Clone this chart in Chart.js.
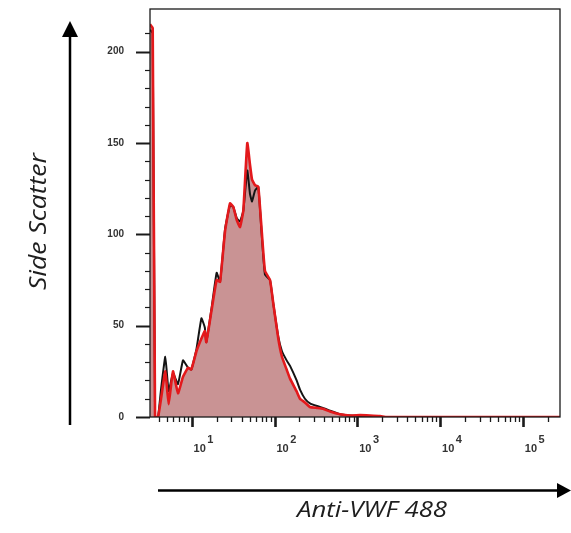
<!DOCTYPE html>
<html><head><meta charset="utf-8">
<script src="https://cdn.jsdelivr.net/npm/chart.js@4/dist/chart.umd.min.js"></script>
<style>html,body{margin:0;padding:0;background:#fff;} #wrap{width:571px;height:533px;position:relative;}</style>
</head><body><div id="wrap"><canvas id="c" width="571" height="533"></canvas></div>
<script>
// Fluorescence intensity (Anti-VWF 488) sample positions
const fluorescence = [3.14, 3.38, 3.61, 3.92, 4.26, 4.80, 5.27, 5.94, 6.83, 7.85, 9.03, 9.89, 11.4, 13.1, 14.4, 15.0, 17.3, 20.0, 22.0, 25.3, 29.0, 31.8, 34.9, 38.3, 42.0, 46.9, 50.6, 53.5, 58.1, 63.7, 70.0, 76.7, 88.2, 96.7, 111, 123, 140, 154, 185, 203, 233, 268, 326, 385, 468, 618, 816, 1078, 1423, 1880, 2284, 280000];
// Counts, red histogram (filled)
const countsRed = [215, 213, 0, 0, 10, 25, 7, 25, 13, 22, 27, 26, 36, 43, 47, 41, 58, 75, 74, 102, 117, 115, 108, 104, 113, 150, 138, 130, 127, 126, 102, 80, 75, 62, 43, 33, 26, 21, 14, 10, 8, 5.5, 5, 4.5, 3, 1.5, 0.8, 1, 0.8, 0.5, 0, 0];
// Counts, black histogram (outline)
const countsBlack = [212, 210, 0, 0, 15, 33, 14, 24, 18, 31, 27, 26, 37, 54, 49, 41, 59, 79, 74, 103, 116, 115, 109, 107, 113, 135, 122, 118, 124, 126, 100, 78, 75, 62, 44, 36, 31, 28, 20, 15, 10, 7.5, 6, 5, 3.5, 1.5, 0.8, 0.5, 0, 0, 0, 0];
// Tick labels
const xDecades = [10, 100, 1000, 10000, 100000];
const xDecadeExponents = ['1', '2', '3', '4', '5'];
const yLabelValues = [0, 50, 100, 150, 200];
const xTitle = 'Anti-VWF 488';
const yTitle = 'Side Scatter';

const tickFont = "'Liberation Sans', Arial, sans-serif";

function fitText(ctx, text, font, targetWidth) {
  ctx.font = font;
  const w = ctx.measureText(text).width;
  return targetWidth / w;
}

const decor = {
  id: 'decor',
  afterDraw(chart) {
    const {ctx, chartArea: a, scales: {x, y}} = chart;
    ctx.save();
    ctx.strokeStyle = '#1a1a1a';
    // frame
    ctx.lineWidth = 1.3;
    ctx.strokeRect(a.left, a.top, a.right - a.left, a.bottom - a.top);
    // y ticks
    y.ticks.forEach(t => {
      const v = t.value;
      if (Math.abs(v - Math.round(v / 10) * 10) > 1e-6) return;
      const major = yLabelValues.includes(Math.round(v));
      const py = Math.round(y.getPixelForValue(v)) + 0.5;
      ctx.lineWidth = major ? 2 : 1.2;
      ctx.beginPath();
      ctx.moveTo(a.left - (major ? 14 : 5), py);
      ctx.lineTo(a.left, py);
      ctx.stroke();
    });
    // x ticks
    x.ticks.forEach(t => {
      const v = t.value;
      const e = Math.floor(Math.log10(v) + 1e-9);
      const m = v / Math.pow(10, e);
      if (Math.abs(m - Math.round(m)) > 1e-6) return;
      const major = Math.round(m) === 1;
      const px = Math.round(x.getPixelForValue(v)) + 0.5;
      ctx.lineWidth = major ? 2.6 : 1.3;
      ctx.beginPath();
      ctx.moveTo(px, a.bottom);
      ctx.lineTo(px, a.bottom + (major ? 10 : 5));
      ctx.stroke();
    });
    // arrows
    ctx.strokeStyle = '#000';
    ctx.fillStyle = '#000';
    ctx.lineWidth = 2.5;
    ctx.beginPath(); ctx.moveTo(70, 425); ctx.lineTo(70, 36); ctx.stroke();
    ctx.beginPath(); ctx.moveTo(62, 37); ctx.lineTo(78, 37); ctx.lineTo(70, 21); ctx.closePath(); ctx.fill();
    ctx.beginPath(); ctx.moveTo(158, 490.5); ctx.lineTo(558, 490.5); ctx.stroke();
    ctx.beginPath(); ctx.moveTo(557, 483); ctx.lineTo(557, 498); ctx.lineTo(571, 490.5); ctx.closePath(); ctx.fill();
    // titles
    ctx.fillStyle = '#1e1e1e';
    ctx.textAlign = 'center';
    ctx.textBaseline = 'alphabetic';
    const xf = "italic 21px 'Open Sans', Lato, sans-serif";
    const sx = fitText(ctx, xTitle, xf, 150);
    ctx.save();
    ctx.translate(372, 516.5);
    ctx.scale(sx, 1);
    ctx.fillText(xTitle, 0, 0);
    ctx.restore();
    const yf = "italic 24px 'Open Sans', Lato, sans-serif";
    const sy = fitText(ctx, yTitle, yf, 137);
    ctx.save();
    ctx.translate(46, 221.5);
    ctx.rotate(-Math.PI / 2);
    ctx.scale(sy, 1);
    ctx.fillText(yTitle, 0, 0);
    ctx.restore();
    ctx.restore();
  }
};

new Chart(document.getElementById('c'), {
  type: 'line',
  data: {
    datasets: [
      {
        label: 'Anti-VWF 488 (red)',
        data: fluorescence.map((v, i) => ({x: v, y: countsRed[i]})),
        borderColor: '#e3191c',
        borderWidth: 2.6,
        backgroundColor: '#c99394',
        fill: 'origin',
        pointRadius: 0,
        tension: 0.12,
        order: 0
      },
      {
        label: 'Control (black)',
        data: fluorescence.map((v, i) => ({x: v, y: countsBlack[i]})),
        borderColor: '#141414',
        borderWidth: 2,
        fill: false,
        pointRadius: 0,
        tension: 0.12,
        order: 1
      }
    ]
  },
  options: {
    responsive: false,
    animation: false,
    devicePixelRatio: 1,
    layout: {padding: {left: 0, top: 9, right: 11, bottom: 0}},
    plugins: {
      legend: {display: false},
      tooltip: {enabled: false},
      filler: {drawTime: 'beforeDatasetsDraw'}
    },
    scales: {
      x: {
        type: 'logarithmic',
        min: 3.136,
        max: 280000,
        grid: {display: true, drawOnChartArea: false, drawTicks: true, tickLength: 10, tickColor: 'rgba(0,0,0,0)', color: 'rgba(0,0,0,0)'},
        border: {display: false},
        ticks: {
          autoSkip: false, maxRotation: 0, minRotation: 0, padding: 8, labelOffset: 8,
          font: {family: tickFont, size: 11, weight: 'bold', lineHeight: 0.82},
          color: '#333',
          callback: (v) => {
            const i = xDecades.findIndex(d => Math.abs(d - v) < 1e-6);
            return i >= 0 ? ['       ' + xDecadeExponents[i], '10'] : '';
          }
        },
        afterFit: s => { s.height = 116; s.paddingLeft = 0; s.paddingRight = 0; }
      },
      y: {
        min: 0,
        max: 223.4,
        grid: {display: true, drawOnChartArea: false, drawTicks: true, tickLength: 14, tickColor: 'rgba(0,0,0,0)', color: 'rgba(0,0,0,0)'},
        border: {display: false},
        ticks: {
          stepSize: 10, autoSkip: false, padding: 12,
          font: {family: tickFont, size: 10, weight: 'bold'},
          color: '#333',
          callback: (v) => yLabelValues.includes(v) ? String(v) : ''
        },
        afterFit: s => { s.width = 150; s.paddingTop = 0; s.paddingBottom = 0; }
      }
    }
  },
  plugins: [decor]
});
</script>
</body></html>
